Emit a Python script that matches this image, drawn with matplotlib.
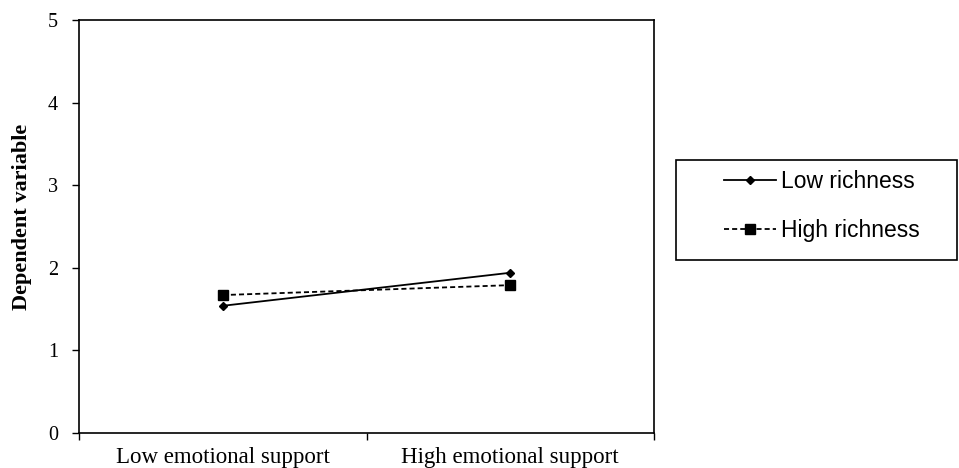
import matplotlib.pyplot as plt
from matplotlib.patches import Rectangle
import numpy as np

# interaction plot: emotional support x richness
conditions = ["Low emotional support", "High emotional support"]
low_richness = [1.54, 1.94]
high_richness = [1.67, 1.79]
yticks = [0, 1, 2, 3, 4, 5]

serif = ["Liberation Serif", "DejaVu Serif"]
sans = ["Liberation Sans", "DejaVu Sans"]

fig = plt.figure(figsize=(9.59, 4.68), dpi=100)
ax = fig.add_axes([79 / 959, 35 / 468, 575 / 959, 413 / 468])

xpos = np.arange(len(conditions)) + 0.5
ax.plot(xpos, low_richness, color="black", lw=1.3, marker="D", ms=4.5,
        label="Low richness")
ax.plot(xpos, high_richness, color="black", lw=1.3, ls=(0, (2.8, 1.7)),
        marker="s", ms=6.5, label="High richness")

ax.set_xlim(0, 2)
ax.set_ylim(0, 5)
ax.set_yticks(yticks)
ax.set_yticklabels([str(v) for v in yticks], fontfamily=serif, fontsize=14.5)

# category ticks sit between groups, labels centred on groups
ax.set_xticks([0, 1, 2])
ax.set_xticklabels([])
ax.set_xticks(xpos, minor=True)
ax.set_xticklabels(conditions, minor=True, fontfamily=serif, fontsize=16.5)
ax.tick_params(axis="x", which="minor", length=0, pad=10)
ax.tick_params(axis="both", which="major", direction="out", length=5,
               width=1, color="black")
ax.tick_params(axis="y", which="major", pad=10)

for sp in ax.spines.values():
    sp.set_linewidth(1.2)

ax.set_ylabel("Dependent variable", fontfamily=serif, fontsize=16,
              fontweight="bold")
ax.yaxis.set_label_coords(-0.082, 0.524)

leg = ax.legend(loc="upper left", bbox_to_anchor=(724 / 959, 1 - 170 / 468),
                bbox_transform=fig.transFigure,
                prop={"family": sans, "size": 16.5}, frameon=False,
                handlelength=2.27, labelspacing=1.15, borderpad=0,
                borderaxespad=0, handletextpad=0.22)

# legend box
fig.patches.append(Rectangle((676 / 959, 1 - 260 / 468), 281 / 959, 100 / 468,
                             transform=fig.transFigure, fill=False,
                             edgecolor="black", linewidth=1.2))

fig.savefig("out.png", dpi=100)
